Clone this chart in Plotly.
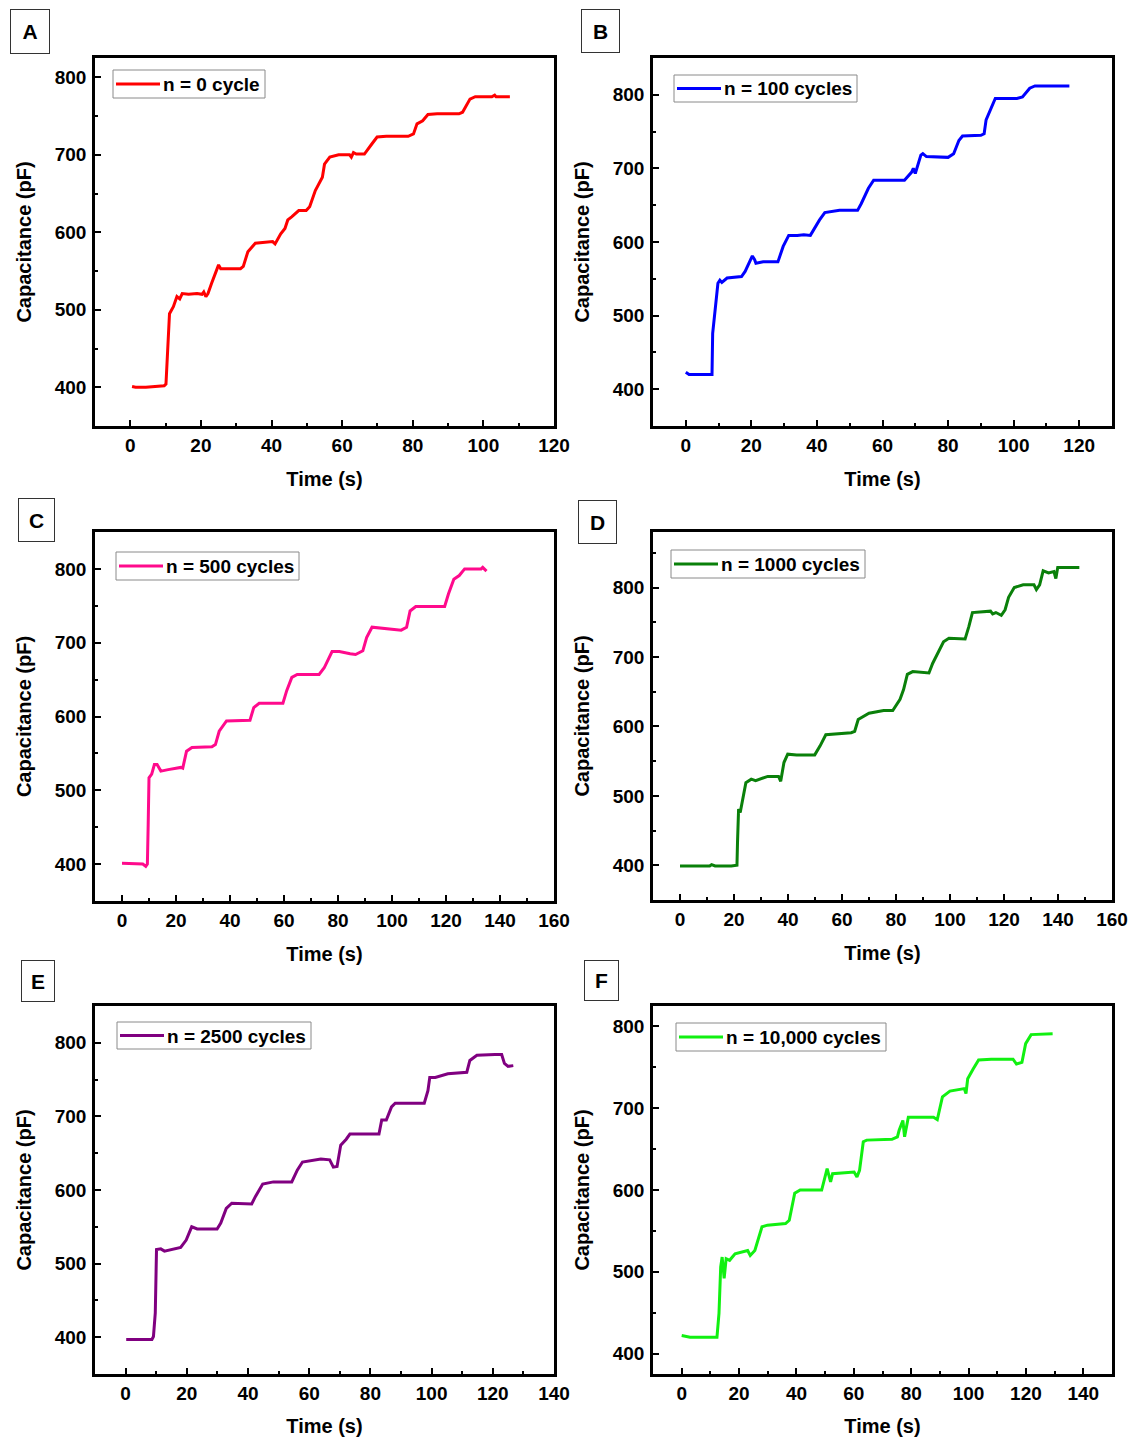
import plotly.graph_objects as go

W, H = 1131, 1437
FONT = "Liberation Sans"

# ---------------- data ----------------
time_a = [0.5, 1.5, 4.4, 7, 9.6, 10.1, 10.6, 11.1, 12.2, 13.2, 14.0, 14.7, 16.5, 18.9, 20.3, 20.8, 21.4, 22.0,
          23.0, 24.5, 25.0, 25.6, 27.1, 31.2, 32.0, 33.3, 35.4, 39.5, 40.3, 41.0, 42.6, 43.8, 44.6, 45.7, 47.7,
          49.8, 50.8, 52.4, 54.4, 55.0, 56.5, 59.0, 62.1, 62.6, 63.2, 64.0, 66.3, 68.4, 69.9, 72.5, 78.7, 80.2,
          81.2, 82.8, 84.3, 86.9, 93.1, 94.1, 96.2, 97.7, 102.4, 103.2, 103.6, 107.5]
cap_a = [401, 400, 400, 401, 402, 404, 452, 495, 504, 517, 514, 521, 520, 521, 520, 523, 517, 521,
         534, 553, 558, 553, 553, 553, 556, 575, 586, 587, 588, 585, 598, 605, 616, 620, 628,
         628, 633, 654, 671, 688, 697, 700, 700, 697, 703, 701, 701, 714, 723, 724, 724, 727,
         740, 744, 752, 753, 753, 755, 772, 775, 775, 777, 775, 775]

time_b = [0, 1, 4, 8.0, 8.2, 8.7, 9.3, 9.8, 10.4, 11.0, 12.6, 17, 18.1, 19.8, 20.3, 21.0, 21.4, 23.6, 28.1,
          29.7, 31.4, 34, 36, 38, 40.8, 42.4, 46.9, 52.4, 53.5, 55.7, 57.3, 60.1, 66.7, 68.9, 69.4, 70.0,
          71.7, 72.3, 73.4, 80, 81.7, 83.3, 84.4, 90, 91, 91.6, 93.3, 94.4, 101, 102.7, 104.9, 106.5, 117]
cap_b = [423, 420, 420, 420, 476, 499, 521, 544, 548, 545, 551, 553, 560, 575, 581, 576, 571, 573, 573,
         594, 609, 609, 610, 609, 630, 640, 643, 643, 652, 673, 684, 684, 684, 695, 700, 693,
         718, 720, 716, 715, 720, 738, 744, 745, 747, 766, 784, 795, 795, 797, 809, 812, 812]

time_c = [0, 6.3, 7.7, 8.8, 9.4, 9.7, 10.0, 11.0, 12.0, 13.0, 14.4, 17.1, 21.8, 22.5, 23.9, 25.9, 33.3, 34.6,
          36.0, 38.7, 47.4, 48.8, 50.8, 59.6, 61.0, 62.9, 64.9, 73.0, 74.9, 77.8, 80.5, 84.5, 86.5, 89.2,
          90.6, 92.6, 95.3, 103.4, 105.4, 106.7, 108.8, 119.5, 120.9, 122.9, 124.9, 126.9, 133.0, 133.6, 135.0]
cap_c = [401, 401, 400, 397, 400, 454, 517, 522, 535, 535, 526, 528, 531, 530, 553, 558, 559, 562,
         580, 594, 595, 612, 618, 618, 635, 653, 657, 657, 666, 688, 688, 685, 684, 689,
         707, 721, 720, 717, 721, 743, 749, 749, 766, 786, 791, 800, 800, 802, 797]

time_d = [0, 11, 11.7, 13, 19, 21.1, 21.3, 21.7, 22.3, 23.0, 24.4, 26.4, 28, 32.5, 36.5, 37.3, 38.5, 39.9,
          43.2, 49.9, 51.9, 54.0, 63.4, 64.7, 66.0, 70.0, 75.4, 78.8, 81.5, 82.8, 84.2, 86.2, 92.2, 93.6,
          95.6, 97.6, 99.6, 105.6, 107.0, 108.3, 115.0, 115.8, 117.0, 119.0, 120.4, 121.7, 123.8, 127.1,
          131.1, 132.0, 133.2, 134.5, 136.5, 138.5, 139.2, 139.9, 147.9]
cap_d = [399, 399, 401, 399, 399, 400, 433, 481, 476, 490, 519, 524, 522, 528, 528, 521, 548, 560,
         559, 559, 572, 588, 591, 593, 610, 619, 623, 623, 639, 653, 675, 679, 677, 691,
         706, 722, 727, 726, 744, 764, 766, 762, 764, 760, 768, 786, 800, 804,
         804, 797, 804, 824, 821, 823, 813, 829, 829]

time_e = [0.2, 8.6, 9.1, 9.7, 10.1, 11.5, 12.7, 18.0, 19.8, 21.6, 23.4, 29.9, 31.1, 32.9, 34.7, 41.2, 42.4,
          44.8, 48.3, 54.3, 56.1, 57.8, 63.8, 66.7, 67.9, 69.1, 70.3, 72.1, 73.3, 82.8, 83.7, 85.2, 86.9,
          88.1, 97.6, 98.8, 99.4, 101.2, 105.3, 110.7, 111.5, 112.5, 114.8, 120.7, 122.9, 123.8, 125.0, 126.7]
cap_e = [397, 397, 401, 433, 519, 520, 517, 522, 532, 550, 547, 547, 555, 575, 582, 581, 591,
         608, 611, 611, 627, 638, 642, 641, 631, 632, 661, 669, 676, 676, 695, 695, 713,
         718, 718, 735, 753, 753, 758, 760, 760, 776, 783, 784, 784, 772, 768, 769]

time_f = [0, 2.9, 11.1, 12.3, 13.0, 13.6, 14.1, 14.8, 15.5, 16.7, 18.6, 23.0, 23.9, 25.5, 28.0, 29.9, 36.2,
          37.5, 39.4, 41.3, 48.8, 50.1, 50.7, 51.9, 52.6, 60.1, 61.1, 62.0, 63.3, 64.5, 73.3, 75.2, 75.8,
          77.1, 77.7, 79.0, 87.8, 89.1, 90.9, 93.5, 98.5, 99.1, 99.7, 101.6, 103.5, 107.9, 115.5, 116.7,
          118.6, 119.9, 121.8, 129.3]
cap_f = [422, 420, 420, 420, 449, 506, 518, 492, 516, 514, 522, 526, 520, 526, 555, 557, 559,
         563, 596, 600, 600, 620, 626, 610, 620, 622, 616, 624, 659, 661, 662, 665, 673,
         685, 665, 689, 689, 686, 714, 721, 724, 718, 736, 748, 759, 760, 760, 754,
         756, 779, 790, 791]

panel_letters = ["A", "B", "C", "D", "E", "F"]
series_names = ["n = 0 cycle", "n = 100 cycles", "n = 500 cycles",
                "n = 1000 cycles", "n = 2500 cycles", "n = 10,000 cycles"]
series_times = [time_a, time_b, time_c, time_d, time_e, time_f]
series_caps = [cap_a, cap_b, cap_c, cap_d, cap_e, cap_f]
x_ranges = [[-10, 120], [-10, 130], [-10, 160], [-10, 160], [-10, 140], [-10, 150]]
y_ranges = [[350, 825], [350, 850], [350, 850], [350, 880], [350, 850], [375, 825]]

# ---------------- layout / style ----------------
colors = ["#FF0000", "#0000FF", "#FF0A8C", "#0A800A", "#800080", "#11F011"]
frames = [(95, 554, 58, 426), (653, 1112, 58, 426),
          (95, 554, 532, 901), (653, 1112, 532, 900),
          (95, 554, 1006, 1374), (653, 1112, 1006, 1374)]
legend_boxes = [(113, 70, 265, 98), (674, 75, 857, 102), (116, 552, 299, 580),
                (671, 550, 865, 578), (117, 1022, 311, 1049), (676, 1023, 886, 1051)]
label_boxes = [(10, 9, 50, 54), (581, 9, 620, 53), (18, 498, 55, 542),
               (578, 500, 617, 544), (21, 960, 55, 1002), (584, 960, 619, 1001)]


def px(xp):
    return xp / W


def py(yp):
    return 1 - yp / H


fig = go.Figure()
layout = dict(width=W, height=H, autosize=False, margin=dict(l=0, r=0, t=0, b=0, autoexpand=False),
              paper_bgcolor="white", plot_bgcolor="white", showlegend=False,
              font=dict(family=FONT, color="black"), annotations=[], shapes=[])

tickfont = dict(family=FONT, size=19, color="black", weight="bold")
titlefont = dict(family=FONT, size=20, color="black", weight="bold")

for i in range(6):
    n = i + 1
    sfx = "" if n == 1 else str(n)
    fig.add_trace(go.Scatter(
        x=series_times[i], y=series_caps[i], mode="lines", name=series_names[i],
        line=dict(color=colors[i], width=3),
        xaxis=f"x{sfx}", yaxis=f"y{sfx}"))
    l, r, t, b = frames[i]
    common = dict(showline=True, linecolor="black", linewidth=2.5, mirror=True,
                  ticks="inside", ticklen=6, tickwidth=2, tickcolor="black",
                  showgrid=False, zeroline=False, tickfont=tickfont, automargin=False)
    layout[f"xaxis{sfx}"] = dict(
        domain=[px(l), px(r)], range=x_ranges[i], anchor=f"y{sfx}",
        tick0=0, dtick=20, ticklabelstandoff=0,
        minor=dict(dtick=10, ticks="inside", ticklen=3, tickwidth=2, tickcolor="black", showgrid=False),
        title=dict(text="Time (s)", font=titlefont, standoff=18), **common)
    layout[f"yaxis{sfx}"] = dict(
        domain=[py(b), py(t)], range=y_ranges[i], anchor=f"x{sfx}",
        tick0=0, dtick=100, ticklabelstandoff=2,
        minor=dict(dtick=50, ticks="inside", ticklen=3, tickwidth=2, tickcolor="black", showgrid=False),
        title=dict(text="Capacitance (pF)", font=titlefont, standoff=18), **common)

    # inset legend box, as in the reference
    lx0, ly0, lx1, ly1 = legend_boxes[i]
    layout["shapes"].append(dict(type="rect", xref="paper", yref="paper",
                                 x0=px(lx0), x1=px(lx1), y0=py(ly1), y1=py(ly0),
                                 fillcolor="white", line=dict(color="#8a8a8a", width=1), layer="above"))
    ym = (ly0 + ly1) / 2
    layout["shapes"].append(dict(type="line", xref="paper", yref="paper",
                                 x0=px(lx0 + 3), x1=px(lx0 + 47), y0=py(ym), y1=py(ym),
                                 line=dict(color=colors[i], width=3), layer="above"))
    layout["annotations"].append(dict(
        text=series_names[i], xref="paper", yref="paper",
        x=px(lx1 - 3), y=py(ym + 0.5), xanchor="right", yanchor="middle",
        showarrow=False, font=dict(family=FONT, size=19, color="black", weight="bold")))

    # panel letter
    bx0, by0, bx1, by1 = label_boxes[i]
    layout["annotations"].append(dict(
        text=panel_letters[i], xref="paper", yref="paper",
        x=px(bx0), y=py(by0), xanchor="left", yanchor="top",
        showarrow=False, width=bx1 - bx0 - 2, height=by1 - by0 - 2,
        borderpad=0, borderwidth=1, bordercolor="#333333", bgcolor="white",
        font=dict(family=FONT, size=21, color="black", weight="bold")))

fig.update_layout(**layout)
fig.write_html("out.html", config={"displayModeBar": False},
               post_script="document.body.style.margin='0px';")
